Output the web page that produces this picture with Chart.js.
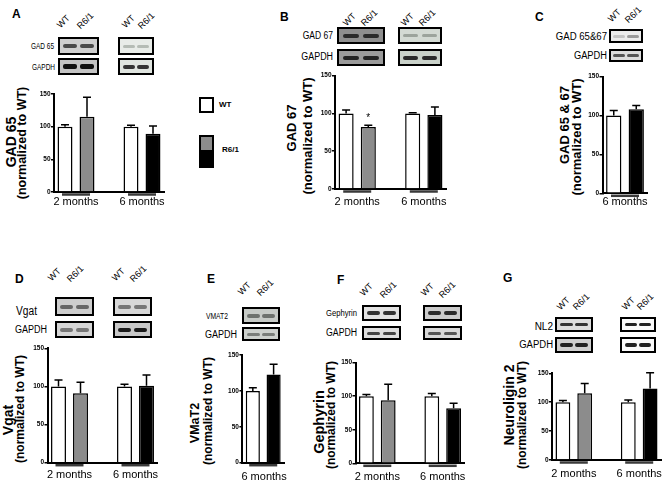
<!DOCTYPE html>
<html>
<head>
<meta charset="utf-8">
<title>GABAergic markers, WT vs R6/1</title>
<script src="https://cdn.jsdelivr.net/npm/chart.js@4.4.1/dist/chart.umd.min.js"></script>
<style>
  html, body { margin: 0; padding: 0; background: #fff; }
  #fig { position: relative; width: 666px; height: 483px; overflow: hidden; font-family: "Liberation Sans", Arial, sans-serif; color: #000; }
  #fig div { position: absolute; white-space: nowrap; line-height: 1; }
  #fig canvas { position: absolute; }
  .blot { box-sizing: border-box; border: 2px solid #000; overflow: hidden; }
  .band { border-radius: 2px; filter: blur(0.7px); }
</style>
</head>
<body>
<div id="fig"></div>
<script>
  // --- data (% of WT, mean and SEM; order WT, R6/1 per age) ---
  var genotypes = ['WT', 'R6/1'];
  var monthsBoth = ['2 months', '6 months'];
  var monthsLate = ['6 months'];
  var yTicks = [0, 50, 100, 150];

  var gad65Mean = [100, 115, 100, 89];
  var gad65Sem = [3, 30, 2, 12];
  var gad67Mean = [100, 82, 100, 98];
  var gad67Sem = [4.5, 2.5, 1, 10.5];
  var gad67Sig = ['', '*', '', ''];
  var gad6567Mean = [100, 108];
  var gad6567Sem = [6.5, 5];
  var vgatMean = [100, 91, 100, 101];
  var vgatSem = [8.5, 14.5, 3, 14];
  var vmat2Mean = [100, 123];
  var vmat2Sem = [4.5, 14];
  var gephyrinMean = [100, 94, 100, 82];
  var gephyrinSem = [2.5, 24, 4, 7.5];
  var nl2Mean = [100, 115.5, 100, 123.5];
  var nl2Sem = [3, 17, 4, 27.5];

  var fig = document.getElementById('fig');
  Chart.defaults.font.family = '"Liberation Sans", Arial, sans-serif';
  Chart.defaults.color = '#000';

  // --- layout of each panel (pixel geometry only) ---
  var panels = [
    { letter: 'A', lx: 12, ly: 14, name: 'GAD 65', months: monthsBoth, mean: gad65Mean, sem: gad65Sem,
      geo: { L: 54, R: 164, T: 94, B: 192, lab: 3.4 },
      title: [10.5, 142, 14, 22, 142.5, 12.5],
      heads: [[62, 30], [82, 31], [127, 30], [143, 31]],
      rows: [['GAD 65', 54, 46, 9, 0.72], ['GAPDH', 55, 67, 9, 0.72]],
      blots: [[58, 37, 41, 18, '#cfcfcf', '#4a4a4a', 4], [58, 58, 41, 17, '#c4c4c4', '#111', 5],
              [118, 37, 36, 18, '#e8ece8', '#b5bcb5', 3], [118, 58, 36, 17, '#dfe4df', '#333', 4]] },
    { letter: 'B', lx: 280, ly: 16.5, name: 'GAD 67', months: monthsBoth, mean: gad67Mean, sem: gad67Sem, sig: gad67Sig,
      geo: { L: 335, R: 446, T: 75.7, B: 189, lab: 6.1 },
      title: [291, 128, 13, 307, 136, 13],
      heads: [[348, 28], [366, 28], [406, 28], [424, 28]],
      rows: [['GAD 67', 333, 36, 10, 0.85], ['GAPDH', 333, 57, 10, 0.89]],
      blots: [[337, 27, 48, 17, '#8e8e8e', '#2a2a2a', 4], [337, 49, 48, 17, '#9a9a9a', '#222', 4],
              [398, 27, 44, 17, '#d3dad3', '#9ca49c', 3], [398, 49, 44, 17, '#c9d1c9', '#2a2a2a', 4]] },
    { letter: 'C', lx: 535, ly: 17, name: 'GAD 65 & 67', months: monthsLate, mean: gad6567Mean, sem: gad6567Sem,
      geo: { L: 602.5, R: 647.5, T: 76.7, B: 193.3, lab: 2 },
      title: [563.5, 125, 13, 575.5, 137, 13],
      heads: [[613, 24], [630, 25]],
      rows: [['GAD 65&67', 606.5, 37, 10, 0.96], ['GAPDH', 606.5, 56, 10, 0.93]],
      blots: [[609, 29, 34, 14, '#ececec', ['#c4c4c4', '#9a9a9a'], 3], [609, 49, 34, 13, '#dcdcdc', '#555', 3]] },
    { letter: 'D', lx: 15, ly: 279, name: 'Vgat', months: monthsBoth, mean: vgatMean, sem: vgatSem,
      geo: { L: 47.5, R: 157.5, T: 348.3, B: 462.7, lab: 5.7 },
      title: [7.5, 420, 14, 20, 409, 12],
      heads: [[53, 283], [72, 284], [117, 283], [135, 284]],
      rows: [['Vgat', 37, 311, 12, 0.85], ['GAPDH', 47, 330, 10, 0.9]],
      blots: [[55, 297, 39, 19, '#cdcdcd', '#666', 4], [55, 321, 39, 17, '#d6d6d6', '#777', 4],
              [113, 297, 39, 19, '#d8d8d8', '#777', 4], [113, 321, 39, 17, '#c8c8c8', '#1a1a1a', 4]] },
    { letter: 'E', lx: 207, ly: 279, name: 'VMaT2', months: monthsLate, mean: vmat2Mean, sem: vmat2Sem,
      geo: { L: 239, R: 284, T: 355, B: 462.7, lab: 7.7 },
      title: [195, 423, 12.5, 208, 411, 12],
      heads: [[243, 297], [262, 298]],
      rows: [['VMAT2', 228, 316, 9, 0.75], ['GAPDH', 237, 335, 10, 0.9]],
      blots: [[242, 307, 38, 17, '#c7cbc7', '#6e726e', 4], [242, 327, 38, 14, '#cdd1cd', '#7a7e7a', 3]] },
    { letter: 'F', lx: 337, ly: 279.5, name: 'Gephyrin', months: monthsBoth, mean: gephyrinMean, sem: gephyrinSem,
      geo: { L: 355.5, R: 464.5, T: 362.7, B: 463.3, lab: 7 },
      title: [319, 422, 14.5, 331, 415, 12],
      heads: [[365, 298], [385, 300], [426, 298], [444, 300]],
      rows: [['Gephyrin', 357, 313, 9, 0.85], ['GAPDH', 357, 333, 10, 0.87]],
      blots: [[362, 305, 39, 16, '#e2e2e2', '#333', 4], [362, 326, 39, 14, '#dedede', '#444', 3],
              [423, 305, 39, 16, '#cbcbcb', '#2a2a2a', 4], [423, 326, 39, 14, '#d8d8d8', '#555', 3]] },
    { letter: 'G', lx: 503, ly: 278, name: 'Neuroligin 2', months: monthsBoth, mean: nl2Mean, sem: nl2Sem,
      geo: { L: 552, R: 661, T: 373.3, B: 460, lab: 7.5 },
      title: [509, 405, 14, 522, 414.5, 12],
      heads: [[562, 312], [578, 312], [627, 312], [642, 312]],
      rows: [['NL2', 553, 327, 10, 1], ['GAPDH', 553, 345, 10, 0.95]],
      blots: [[555, 317, 38, 15, '#dddddd', '#333', 3], [555, 337, 38, 16, '#cfcfcf', '#222', 4],
              [620, 317, 36, 15, '#fafafa', '#222', 3], [620, 337, 36, 16, '#fafafa', '#222', 4]] }
  ];

  var barColors = { 'WT': '#ffffff', '2 months': '#8c8c8c', '6 months': '#000000' };

  // error bars, significance marks and the age underline under each pair
  var barMarks = {
    id: 'barMarks',
    afterDatasetsDraw: function (chart) {
      var ctx = chart.ctx, ds = chart.data.datasets[0], meta = chart.getDatasetMeta(0);
      var x = chart.scales.x, y = chart.scales.y;
      ctx.save();
      ctx.strokeStyle = '#000';
      ctx.lineWidth = 1.5;
      meta.data.forEach(function (bar, i) {
        var v = ds.data[i];
        if (v == null) return;
        var top = y.getPixelForValue(v + ds.sem[i]);
        ctx.beginPath();
        ctx.moveTo(bar.x, bar.y);
        ctx.lineTo(bar.x, top);
        ctx.moveTo(bar.x - 4, top);
        ctx.lineTo(bar.x + 4, top);
        ctx.stroke();
        if (ds.sig[i]) {
          ctx.fillStyle = '#000';
          ctx.font = '10px "Liberation Sans", Arial, sans-serif';
          ctx.textAlign = 'center';
          ctx.textBaseline = 'middle';
          ctx.fillText(ds.sig[i], bar.x, top - 7);
        }
      });
      ctx.strokeStyle = '#3a3a3a';
      ctx.lineWidth = 2.5;
      ds.pairs.forEach(function (p) {
        var c = (x.getPixelForValue(p[0]) + x.getPixelForValue(p[1])) / 2;
        ctx.beginPath();
        ctx.moveTo(c - 14, y.bottom + 2.5);
        ctx.lineTo(c + 14, y.bottom + 2.5);
        ctx.stroke();
      });
      ctx.restore();
    }
  };

  function buildSlots(months, mean, sem, sig) {
    var s = { labels: [], data: [], err: [], colors: [], marks: [], pairs: [] };
    months.forEach(function (m, mi) {
      if (mi > 0) {
        s.labels.push(''); s.data.push(null); s.err.push(null); s.colors.push('#fff'); s.marks.push('');
      }
      var start = s.labels.length;
      genotypes.forEach(function (gt, gi) {
        var k = mi * genotypes.length + gi;
        s.labels.push(gi === 0 ? m : '');
        s.data.push(mean[k]);
        s.err.push(sem[k]);
        s.marks.push(sig ? sig[k] : '');
        s.colors.push(gi === 0 ? barColors.WT : barColors[m]);
      });
      s.pairs.push([start, start + genotypes.length - 1]);
    });
    return s;
  }

  function drawChart(p) {
    var g = p.geo;
    var s = buildSlots(p.months, p.mean, p.sem, p.sig);
    var cl = Math.floor(g.L - 22), ct = Math.floor(g.T - 8);
    var yW = g.L - cl, padTop = g.T - ct;
    var ch = Math.ceil(g.B + 22 - ct), xH = ct + ch - g.B;
    var cw = Math.ceil(g.R - cl + 4), padRight = cw - (g.R - cl);
    var slotW = (g.R - g.L) / s.labels.length;

    var canvas = document.createElement('canvas');
    canvas.width = cw;
    canvas.height = ch;
    canvas.style.left = cl + 'px';
    canvas.style.top = ct + 'px';
    fig.appendChild(canvas);

    new Chart(canvas, {
      type: 'bar',
      data: {
        labels: s.labels,
        datasets: [{
          data: s.data, sem: s.err, sig: s.marks, pairs: s.pairs,
          backgroundColor: s.colors, borderColor: '#000', borderWidth: 1.5,
          barPercentage: 0.68, categoryPercentage: 1
        }]
      },
      options: {
        responsive: false,
        animation: false,
        events: [],
        layout: { autoPadding: false, padding: { top: padTop, right: padRight, left: 0, bottom: 0 } },
        plugins: { legend: { display: false }, tooltip: { enabled: false } },
        scales: {
          x: {
            grid: { display: false, drawTicks: false },
            border: { display: true, color: '#000', width: 2 },
            ticks: { autoSkip: false, maxRotation: 0, labelOffset: slotW / 2, padding: g.lab, font: { size: 11 }, color: '#000' },
            afterFit: function (sc) { sc.height = xH; }
          },
          y: {
            min: 0, max: 150,
            afterBuildTicks: function (sc) { sc.ticks = yTicks.map(function (v) { return { value: v }; }); },
            grid: { display: true, drawOnChartArea: false, drawTicks: true, tickLength: 3, color: '#000', lineWidth: 1.5 },
            border: { display: true, color: '#000', width: 2 },
            ticks: { padding: 0.5, font: { size: 6.5, weight: 'bold' }, color: '#000' },
            afterFit: function (sc) { sc.width = yW; }
          }
        }
      },
      plugins: [barMarks]
    });
  }

  function text(str, x, y, css, anchor) {
    var d = document.createElement('div');
    d.textContent = str;
    d.style.cssText = 'left:' + x + 'px;top:' + y + 'px;' + css;
    if (anchor === 'l') d.style.transform = 'translateY(-50%)';
    fig.appendChild(d);
    return d;
  }

  function blot(b) {
    var d = document.createElement('div');
    d.className = 'blot';
    d.style.cssText = 'left:' + b[0] + 'px;top:' + b[1] + 'px;width:' + b[2] + 'px;height:' + b[3] + 'px;background:' + b[4];
    var iw = b[2] - 4, ih = b[3] - 4, bw = iw * 0.38, bh = b[6];
    [0.27, 0.73].forEach(function (f, k) {
      var band = document.createElement('div');
      band.className = 'band';
      band.style.cssText = 'left:' + (iw * f - bw / 2) + 'px;top:' + (ih / 2 - bh / 2) + 'px;width:' + bw +
        'px;height:' + bh + 'px;background:' + (Array.isArray(b[5]) ? b[5][k] : b[5]);
      d.appendChild(band);
    });
    fig.appendChild(d);
  }

  panels.forEach(function (p) {
    text(p.letter, p.lx, p.ly, 'font-size:12px;font-weight:bold;', 'l');

    // rotated y titles
    var t = p.title;
    var n = text(p.name, t[0], t[1], 'font-size:' + t[2] + 'px;font-weight:bold;');
    n.style.transform = 'translate(-50%,-50%) rotate(-90deg)';
    var m = text('(normalized to WT)', t[3], t[4], 'font-size:' + t[5] + 'px;font-weight:bold;');
    m.style.transform = 'translate(-50%,-50%) rotate(-90deg)';

    // lane headers
    p.heads.forEach(function (h, i) {
      var d = text(genotypes[i % genotypes.length], h[0], h[1] - 9, 'font-size:9px;line-height:9px;transform-origin:0 100%;');
      d.style.transform = 'rotate(-45deg)';
    });

    // blot row names
    p.rows.forEach(function (r) {
      var d = text(r[0], r[1], r[2], 'font-size:' + r[3] + 'px;transform-origin:100% 50%;');
      d.style.transform = 'translate(-100%,-50%) scaleX(' + r[4] + ')';
    });

    p.blots.forEach(blot);
    drawChart(p);
  });

  // legend
  var lg = [
    { top: 97, fill: barColors.WT },
    { top: 135, fill: barColors['2 months'] },
    { top: 151, fill: barColors['6 months'] }
  ];
  lg.forEach(function (b) {
    var d = document.createElement('div');
    d.style.cssText = 'left:199px;top:' + b.top + 'px;width:15px;height:' + (b.top === 97 ? 16 : 17) +
      'px;box-sizing:border-box;border:2px solid #000;background:' + b.fill;
    fig.appendChild(d);
  });
  text(genotypes[0], 219, 105, 'font-size:8px;font-weight:bold;', 'l');
  text(genotypes[1], 222, 150, 'font-size:8px;font-weight:bold;', 'l');
</script>
</body>
</html>
